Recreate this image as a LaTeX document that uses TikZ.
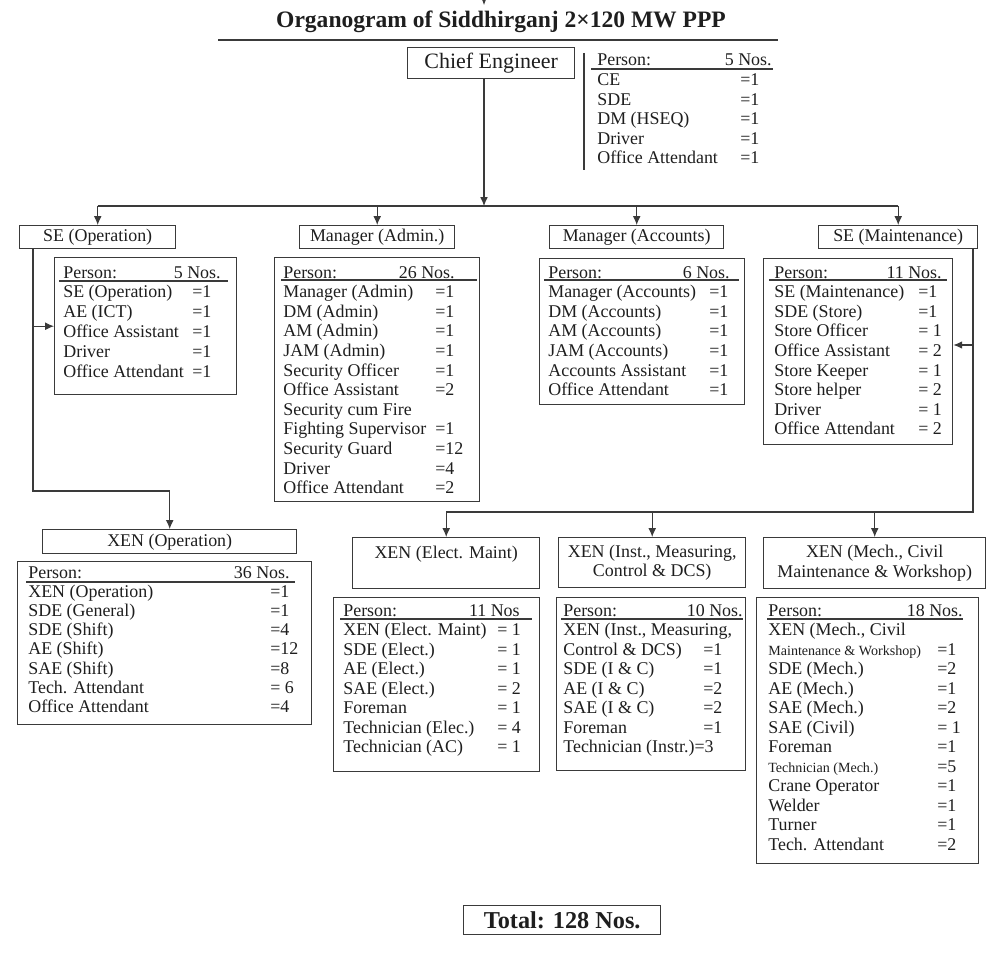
\documentclass[tikz,border=0pt]{standalone}
\usepackage{fontspec}
\setmainfont{Liberation Serif}
\usetikzlibrary{arrows.meta}

\definecolor{ink}{HTML}{1E1E1E}
\definecolor{rule}{HTML}{3A3A3A}
\newcommand{\rowfont}{\fontsize{10.2}{11.3}\selectfont}
\newcommand{\smallrow}{\fontsize{8}{9}\selectfont}

\tikzset{
  hbox/.style={draw=rule, line width=0.8pt, inner sep=0pt, font=\rowfont, text=ink, anchor=north west},
  tbl/.style={draw=rule, line width=0.8pt, inner sep=0pt, anchor=north west},
  row/.style={anchor=base west, inner sep=0pt, font=\rowfont, text=ink},
  nos/.style={row, anchor=base east},
  uline/.style={draw=rule, line width=0.6pt},
  link/.style={draw=rule, line width=0.6pt},
  boxsize/.style 2 args={minimum width=#1*0.02cm, minimum height=#2*0.02cm}
}

\begin{document}
\begin{tikzpicture}[x=0.02cm, y=-0.02cm, >={Latex[length=5pt,width=4.4pt]}]
    \useasboundingbox (0,0) rectangle (987,966);

    % title
    \node[font=\fontsize{13.4}{15}\selectfont\bfseries, text=ink, anchor=base] (title) at (501,28) {Organogram of Siddhirganj 2×120 MW PPP};
    \draw[rule, line width=0.9pt] (218,40) -- (778,40);

    % arrow coming in from the previous page
    \coordinate (prevtop) at (484,-12);
    \coordinate (prevtip) at (484,5);
    \draw[link,->] (prevtop) -- (prevtip);

    % chief engineer
    \node[hbox, boxsize={167}{31}, font=\fontsize{12.5}{14}\selectfont] (ce) at (407,47) {Chief Engineer};

    \draw[link] (584,53) -- (584,170);
    \node[row] (cetbl-h) at (597,66) {Person:};
    \node[nos] (cetbl-n) at (772,66) {5 Nos.};
    \draw[uline] (591,69) -- (773,69);
    \foreach \t/\v [count=\i] in {CE/=1, SDE/=1, DM (HSEQ)/=1, Driver/=1, Office Attendant/=1}{
        \node[row] (cetbl-\i) at (597,{66+19.6*\i}) {\t};
        \node[row] (cetbl-v\i) at (740,{66+19.6*\i}) {\v};
    }

    % second level
    \node[hbox, boxsize={156}{23}] (seop) at (19,225) {SE (Operation)};
    \node[hbox, boxsize={155}{23}] (mgad) at (299,225) {Manager (Admin.)};
    \node[hbox, boxsize={174}{23}] (mgac) at (549,225) {Manager (Accounts)};
    \node[hbox, boxsize={159}{23}] (semt) at (818,225) {SE (Maintenance)};

    \coordinate (bus) at (484,206);
    \draw[link,->] (ce.south -| bus) -- (bus);
    \draw[link] (seop.north |- bus) -- (semt.north |- bus);
    \foreach \n in {seop,mgad,mgac,semt}
        \draw[link,->] (\n.north |- bus) -- (\n.north);

    % SE (Operation) staff
    \node[tbl, boxsize={182}{137}] (optbl) at (54,257) {};
    \node[row] (optbl-h) at (63,278) {Person:};
    \node[nos] (optbl-n) at (221,278) {5 Nos.};
    \draw[uline] (59,281) -- (228,281);
    \foreach \t/\v [count=\i] in {SE (Operation)/=1, AE (ICT)/=1, Office Assistant/=1, Driver/=1, Office Attendant/=1}{
        \node[row] (optbl-\i) at (63,{278+19.8*\i}) {\t};
        \node[row] (optbl-v\i) at (192,{278+19.8*\i}) {\v};
    }

    % Manager (Admin.) staff
    \node[tbl, boxsize={205}{244}] (adtbl) at (274,257) {};
    \node[row] (adtbl-h) at (283,278) {Person:};
    \node[nos] (adtbl-n) at (455,278) {26 Nos.};
    \draw[uline] (281,280) -- (477,280);
    \foreach \t/\v [count=\i] in {Manager (Admin)/=1, DM (Admin)/=1, AM (Admin)/=1, JAM (Admin)/=1, Security Officer/=1, Office Assistant/=2, Security cum Fire/{}, Fighting Supervisor/=1, Security Guard/=12, Driver/=4, Office Attendant/=2}{
        \node[row] (adtbl-\i) at (283,{278+19.6*\i}) {\t};
        \node[row] (adtbl-v\i) at (435,{278+19.6*\i}) {\v};
    }

    % Manager (Accounts) staff
    \node[tbl, boxsize={205}{146}] (actbl) at (539,258) {};
    \node[row] (actbl-h) at (548,278) {Person:};
    \node[nos] (actbl-n) at (730,278) {6 Nos.};
    \draw[uline] (544,280) -- (739,280);
    \foreach \t/\v [count=\i] in {Manager (Accounts)/=1, DM (Accounts)/=1, AM (Accounts)/=1, JAM (Accounts)/=1, Accounts Assistant/=1, Office Attendant/=1}{
        \node[row] (actbl-\i) at (548,{278+19.6*\i}) {\t};
        \node[row] (actbl-v\i) at (709,{278+19.6*\i}) {\v};
    }

    % SE (Maintenance) staff
    \node[tbl, boxsize={189}{186}] (mttbl) at (763,258) {};
    \node[row] (mttbl-h) at (774,278) {Person:};
    \node[nos] (mttbl-n) at (942,278) {11 Nos.};
    \draw[uline] (769,280) -- (947,280);
    \foreach \t/\v [count=\i] in {SE (Maintenance)/=1, SDE (Store)/=1, Store Officer/= 1, Office Assistant/= 2, Store Keeper/= 1, Store helper/= 2, Driver/= 1, Office Attendant/= 2}{
        \node[row] (mttbl-\i) at (774,{278+19.6*\i}) {\t};
        \node[row] (mttbl-v\i) at (918,{278+19.6*\i}) {\v};
    }

    % third level
    \node[hbox, boxsize={254}{24}] (xenop) at (42,529) {XEN (Operation)};
    \node[hbox, boxsize={187}{51}, text depth=13pt] (elmt) at (352,537) {XEN (Elect. Maint)};
    \node[hbox, boxsize={187}{50}, align=center] (inst) at (558,537) {XEN (Inst., Measuring,\\Control \& DCS)};
    \node[hbox, boxsize={222}{51}, align=center] (mech) at (763,537) {XEN (Mech., Civil\\Maintenance \& Workshop)};

    \coordinate (opturn) at (33,491);
    \draw[link,->] (seop.south -| opturn) -- (opturn) -| (xenop.north);
    \draw[link,->] (opturn |- optbl.west) -- (optbl.west);

    \coordinate (mtturn) at (973,512);
    \coordinate (mtin) at (973,345);
    \draw[link] (semt.south -| mtturn) -- (mtturn) -- (elmt.north |- mtturn);
    \draw[link,->] (mtin) -- (mttbl.east |- mtin);
    \foreach \n in {elmt,inst,mech}
        \draw[link,->] (\n.north |- mtturn) -- (\n.north);

    % XEN (Operation) staff
    \node[tbl, boxsize={294}{163}] (xotbl) at (17,561) {};
    \node[row] (xotbl-h) at (28,578) {Person:};
    \node[nos] (xotbl-n) at (290,578) {36 Nos.};
    \draw[uline] (26,582) -- (295,582);
    \foreach \t/\v [count=\i] in {XEN (Operation)/=1, SDE (General)/=1, SDE (Shift)/=4, AE (Shift)/=12, SAE (Shift)/=8, Tech. Attendant/= 6, Office Attendant/=4}{
        \node[row] (xotbl-\i) at (28,{578+19.2*\i}) {\t};
        \node[row] (xotbl-v\i) at (270,{578+19.2*\i}) {\v};
    }

    % XEN (Elect. Maint) staff
    \node[tbl, boxsize={206}{174}] (eltbl) at (333,597) {};
    \node[row] (eltbl-h) at (343,616) {Person:};
    \node[nos] (eltbl-n) at (520,616) {11 Nos};
    \draw[uline] (340,619) -- (532,619);
    \foreach \t/\v [count=\i] in {XEN (Elect. Maint)/= 1, SDE (Elect.)/= 1, AE (Elect.)/= 1, SAE (Elect.)/= 2, Foreman/= 1, Technician (Elec.)/= 4, Technician (AC)/= 1}{
        \node[row] (eltbl-\i) at (343,{616+19.5*\i}) {\t};
        \node[row] (eltbl-v\i) at (497,{616+19.5*\i}) {\v};
    }

    % XEN (Inst., Measuring, Control & DCS) staff
    \node[tbl, boxsize={189}{173}] (intbl) at (556,597) {};
    \node[row] (intbl-h) at (563,616) {Person:};
    \node[nos] (intbl-n) at (743,616) {10 Nos.};
    \draw[uline] (561,619) -- (743,619);
    \foreach \t/\v [count=\i] in {{XEN (Inst., Measuring,}/{}, {Control \& DCS)}/=1, {SDE (I \& C)}/=1, {AE (I \& C)}/=2, {SAE (I \& C)}/=2, Foreman/=1, {Technician (Instr.)=3}/{}}{
        \node[row] (intbl-\i) at (563,{616+19.5*\i}) {\t};
        \node[row] (intbl-v\i) at (703,{616+19.5*\i}) {\v};
    }

    % XEN (Mech., Civil Maintenance & Workshop) staff
    \node[tbl, boxsize={222}{266}] (mctbl) at (756,597) {};
    \node[row] (mctbl-h) at (768,616) {Person:};
    \node[nos] (mctbl-n) at (963,616) {18 Nos.};
    \draw[uline] (767,619) -- (963,619);
    \foreach \t/\v [count=\i] in {{XEN (Mech., Civil}/{}, {\smallrow Maintenance \& Workshop)}/=1, SDE (Mech.)/=2, AE (Mech.)/=1, SAE (Mech.)/=2, SAE (Civil)/= 1, Foreman/=1, {\smallrow Technician (Mech.)}/=5, Crane Operator/=1, Welder/=1, Turner/=1, Tech. Attendant/=2}{
        \node[row] (mctbl-\i) at (768,{616+19.5*\i}) {\t};
        \node[row] (mctbl-v\i) at (937,{616+19.5*\i}) {\v};
    }

    % total
    \node[hbox, boxsize={197}{29}, font=\fontsize{13.8}{15}\selectfont\bfseries] (total) at (463,905) {Total: 128 Nos.};
\end{tikzpicture}
\end{document}
